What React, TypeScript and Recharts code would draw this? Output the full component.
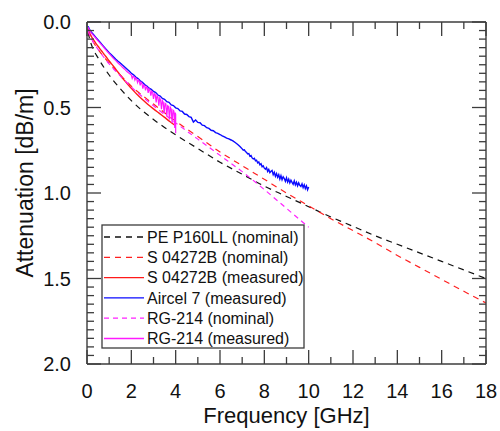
import React from "react";
import { Line, LineChart, XAxis, YAxis } from "recharts";

const FONT = "'Liberation Sans', Arial, Helvetica, sans-serif";
const FRAME = "#3c3c3c";

// frequency [GHz], attenuation [dB/m]
const pe160Nominal: [number, number][] = [
  [0.05, 0.06], [0.1, 0.09], [0.25, 0.15], [0.5, 0.21], [1, 0.31], [1.5, 0.39], [2, 0.46],
  [3, 0.57], [4, 0.66], [5, 0.74], [6, 0.82], [7, 0.89], [8, 0.96], [9, 1.02], [10, 1.08],
  [11, 1.14], [12, 1.195], [13, 1.25], [14, 1.3], [15, 1.35], [16, 1.4], [17, 1.45], [18, 1.5],
];

const s04272Nominal: [number, number][] = [
  [0.05, 0.05], [0.1, 0.07], [0.25, 0.11], [0.5, 0.16], [1, 0.24], [1.5, 0.31], [2, 0.375],
  [3, 0.48], [4, 0.58], [5, 0.67], [6, 0.76], [7, 0.84], [8, 0.92], [9, 1.0], [10, 1.075],
  [11, 1.15], [12, 1.22], [13, 1.29], [14, 1.365], [15, 1.435], [16, 1.505], [17, 1.575], [18, 1.643],
];

const s04272Measured: [number, number][] = [
  [0.05, 0.04], [0.1, 0.06], [0.2, 0.085], [0.3, 0.105], [0.4, 0.125], [0.5, 0.142], [0.6, 0.16],
  [0.7, 0.176], [0.8, 0.194], [0.9, 0.21], [1.0, 0.228], [1.2, 0.26], [1.4, 0.294], [1.6, 0.328],
  [1.8, 0.358], [2.0, 0.388], [2.25, 0.422], [2.5, 0.453], [2.75, 0.482], [3.0, 0.508],
  [3.25, 0.533], [3.5, 0.558], [3.75, 0.583], [4.0, 0.607],
];

const aircel7Measured: [number, number][] = [
  [0.05, 0.025], [0.1, 0.04], [0.2, 0.06], [0.3, 0.075], [0.4, 0.09], [0.5, 0.105], [0.6, 0.12],
  [0.7, 0.135], [0.8, 0.15], [0.9, 0.165], [1.0, 0.18], [1.1, 0.192], [1.2, 0.205], [1.3, 0.218],
  [1.4, 0.23], [1.5, 0.24], [1.6, 0.252], [1.7, 0.263], [1.8, 0.275], [1.9, 0.287], [2.0, 0.3],
  [2.1, 0.309], [2.2, 0.322], [2.3, 0.331], [2.4, 0.344], [2.5, 0.353], [2.6, 0.366], [2.7, 0.374],
  [2.8, 0.387], [2.9, 0.394], [3.0, 0.406], [3.1, 0.413], [3.2, 0.427], [3.3, 0.433], [3.4, 0.447],
  [3.5, 0.452], [3.6, 0.466], [3.7, 0.47], [3.8, 0.485], [3.9, 0.489], [4.0, 0.502], [4.1, 0.506],
  [4.2, 0.52], [4.3, 0.523], [4.4, 0.538], [4.5, 0.541], [4.6, 0.553], [4.7, 0.558], [4.8, 0.585],
  [4.9, 0.573], [5.0, 0.587], [5.1, 0.589], [5.2, 0.603], [5.3, 0.606], [5.4, 0.618], [5.5, 0.622],
  [5.6, 0.633], [5.7, 0.636], [5.8, 0.647], [5.9, 0.651], [6.0, 0.658], [6.1, 0.666], [6.2, 0.672],
  [6.3, 0.679], [6.4, 0.684], [6.5, 0.69], [6.6, 0.697], [6.7, 0.706], [6.8, 0.716], [6.9, 0.728],
  [7.0, 0.742], [7.05, 0.75], [7.1, 0.748], [7.15, 0.758], [7.2, 0.763], [7.25, 0.771], [7.3, 0.769],
  [7.35, 0.785], [7.4, 0.781], [7.45, 0.795], [7.5, 0.801], [7.55, 0.797], [7.6, 0.812], [7.65, 0.808],
  [7.7, 0.824], [7.75, 0.818], [7.8, 0.835], [7.85, 0.829], [7.9, 0.847], [7.95, 0.841], [8.0, 0.855],
  [8.05, 0.861], [8.1, 0.852], [8.15, 0.874], [8.2, 0.862], [8.25, 0.881], [8.3, 0.873], [8.35, 0.868],
  [8.4, 0.893], [8.45, 0.879], [8.5, 0.902], [8.55, 0.886], [8.6, 0.908], [8.65, 0.893], [8.7, 0.918],
  [8.75, 0.899], [8.8, 0.922], [8.85, 0.905], [8.9, 0.915], [8.95, 0.932], [9.0, 0.911], [9.05, 0.936],
  [9.1, 0.919], [9.15, 0.941], [9.2, 0.925], [9.25, 0.938], [9.3, 0.949], [9.35, 0.929], [9.4, 0.952],
  [9.45, 0.937], [9.5, 0.958], [9.55, 0.941], [9.6, 0.955], [9.65, 0.962], [9.7, 0.946], [9.75, 0.968],
  [9.8, 0.952], [9.85, 0.974], [9.9, 0.958], [9.95, 0.981], [10.0, 0.965],
];

const rg214Nominal: [number, number][] = [
  [0.05, 0.05], [0.1, 0.07], [0.25, 0.11], [0.5, 0.16], [1, 0.245], [1.5, 0.315], [2, 0.38],
  [3, 0.49], [4, 0.59], [5, 0.685], [6, 0.78], [7, 0.875], [8, 0.98], [9, 1.09], [10, 1.2],
];

const rg214Measured: [number, number][] = [
  [0.05, 0.03], [0.1, 0.045], [0.2, 0.065], [0.3, 0.08], [0.4, 0.095], [0.5, 0.11], [0.6, 0.125],
  [0.7, 0.14], [0.8, 0.155], [0.9, 0.17], [1.0, 0.185], [1.1, 0.2], [1.2, 0.214], [1.3, 0.226],
  [1.4, 0.24], [1.5, 0.251], [1.6, 0.265], [1.7, 0.276], [1.8, 0.29], [1.9, 0.3], [2.0, 0.31],
  [2.04, 0.33], [2.08, 0.318], [2.12, 0.32], [2.16, 0.34], [2.2, 0.327], [2.24, 0.333],
  [2.28, 0.355], [2.32, 0.34], [2.36, 0.347], [2.4, 0.37], [2.44, 0.352], [2.48, 0.36],
  [2.52, 0.39], [2.56, 0.368], [2.6, 0.372], [2.64, 0.4], [2.68, 0.378], [2.72, 0.385],
  [2.76, 0.415], [2.8, 0.39], [2.84, 0.4], [2.88, 0.43], [2.92, 0.405], [2.96, 0.41],
  [3.0, 0.45], [3.04, 0.42], [3.08, 0.425], [3.12, 0.47], [3.16, 0.43], [3.2, 0.44],
  [3.24, 0.49], [3.28, 0.445], [3.32, 0.455], [3.36, 0.51], [3.4, 0.46], [3.44, 0.47],
  [3.48, 0.535], [3.52, 0.475], [3.56, 0.48], [3.6, 0.55], [3.64, 0.49], [3.68, 0.495],
  [3.72, 0.57], [3.76, 0.5], [3.8, 0.51], [3.84, 0.59], [3.88, 0.515], [3.92, 0.52],
  [3.96, 0.62], [3.98, 0.53], [4.0, 0.54], [4.0, 0.65],
];

const xTicks = [0, 1, 2, 3, 4, 5, 6, 7, 8, 9, 10, 11, 12, 13, 14, 15, 16, 17, 18];
const yTicks = [
  0, 0.05, 0.1, 0.15, 0.2, 0.25, 0.3, 0.35, 0.4, 0.45, 0.5, 0.55, 0.6, 0.65, 0.7, 0.75, 0.8,
  0.85, 0.9, 0.95, 1, 1.05, 1.1, 1.15, 1.2, 1.25, 1.3, 1.35, 1.4, 1.45, 1.5, 1.55, 1.6, 1.65,
  1.7, 1.75, 1.8, 1.85, 1.9, 1.95, 2,
];
const yTickLabels = ["0.0", "0.5", "1.0", "1.5", "2.0"];

interface Series {
  name: string;
  points: [number, number][];
  color: string;
  dash?: string;
  width: number;
  smooth: boolean;
}

const series: Series[] = [
  { name: "PE P160LL (nominal)", points: pe160Nominal, color: "#111111", dash: "6 5", width: 1.2, smooth: true },
  { name: "S 04272B (nominal)", points: s04272Nominal, color: "#ff2020", dash: "6 5", width: 1.2, smooth: true },
  { name: "S 04272B (measured)", points: s04272Measured, color: "#ff1a1a", width: 1.4, smooth: true },
  { name: "Aircel 7 (measured)", points: aircel7Measured, color: "#0a0aff", width: 1.4, smooth: false },
  { name: "RG-214 (nominal)", points: rg214Nominal, color: "#ff22ff", dash: "5 4", width: 1.2, smooth: true },
  { name: "RG-214 (measured)", points: rg214Measured, color: "#ff1aff", width: 1.2, smooth: false },
];

const isMajorY = (v: number) => Math.abs(v * 2 - Math.round(v * 2)) < 1e-6;

function BottomTick(props: any) {
  const { x, y, payload } = props;
  const v = payload.value as number;
  const major = v % 2 === 0;
  return (
    <g>
      <line x1={x} x2={x} y1={y} y2={y - (major ? 14 : 7)} stroke={FRAME} strokeWidth={1.3} />
      {major && (
        <text x={x} y={y + 34} textAnchor="middle" fontSize={20} fontFamily={FONT} fill="#111">
          {v}
        </text>
      )}
    </g>
  );
}

function TopTick(props: any) {
  const { x, y, payload } = props;
  const major = (payload.value as number) % 2 === 0;
  return <line x1={x} x2={x} y1={y} y2={y + (major ? 14 : 7)} stroke={FRAME} strokeWidth={1.3} />;
}

function LeftTick(props: any) {
  const { x, y, payload } = props;
  const v = payload.value as number;
  const major = isMajorY(v);
  return (
    <g>
      <line x1={x} x2={x + (major ? 14 : 7)} y1={y} y2={y} stroke={FRAME} strokeWidth={1.3} />
      {major && (
        <text x={x - 16} y={y} dy="0.36em" textAnchor="end" fontSize={20} fontFamily={FONT} fill="#111">
          {yTickLabels[Math.round(v * 2)]}
        </text>
      )}
    </g>
  );
}

function RightTick(props: any) {
  const { x, y, payload } = props;
  const major = isMajorY(payload.value as number);
  return <line x1={x} x2={x - (major ? 14 : 7)} y1={y} y2={y} stroke={FRAME} strokeWidth={1.3} />;
}

function LegendBox() {
  const left = 102;
  const top = 225;
  return (
    <g>
      <rect x={left} y={top} width={202} height={123} fill="#fff" stroke={FRAME} strokeWidth={1.3} />
      {series.map((s, i) => {
        const cy = top + 12 + i * 20.3;
        return (
          <g key={s.name}>
            <line x1={104} x2={144} y1={cy} y2={cy} stroke={s.color} strokeWidth={1.3} strokeDasharray={s.dash} />
            <text x={147} y={cy} dy="0.36em" fontSize={16} fontFamily={FONT} fill="#111">
              {s.name}
            </text>
          </g>
        );
      })}
    </g>
  );
}

const axisLine = { stroke: FRAME, strokeWidth: 1.4 };

export default function App() {
  return (
    <div style={{ position: "absolute", left: 0, top: 0, width: 500, height: 431, background: "#fff" }}>
      <LineChart width={500} height={431} margin={{ top: 21, right: 13, bottom: 66, left: 86 }}>
        <XAxis
          xAxisId="b"
          dataKey="f"
          type="number"
          domain={[0, 18]}
          allowDataOverflow
          ticks={xTicks}
          interval={0}
          height={1}
          tickSize={0}
          tickMargin={0}
          tickLine={false}
          axisLine={axisLine}
          tick={BottomTick}
        />
        <XAxis
          xAxisId="t"
          orientation="top"
          dataKey="f"
          type="number"
          domain={[0, 18]}
          allowDataOverflow
          ticks={xTicks}
          interval={0}
          height={1}
          tickSize={0}
          tickMargin={0}
          tickLine={false}
          axisLine={axisLine}
          tick={TopTick}
        />
        <YAxis
          yAxisId="l"
          type="number"
          domain={[0, 2]}
          reversed
          allowDataOverflow
          ticks={yTicks}
          interval={0}
          width={1}
          tickSize={0}
          tickMargin={0}
          tickLine={false}
          axisLine={axisLine}
          tick={LeftTick}
        />
        <YAxis
          yAxisId="r"
          orientation="right"
          type="number"
          domain={[0, 2]}
          reversed
          allowDataOverflow
          ticks={yTicks}
          interval={0}
          width={1}
          tickSize={0}
          tickMargin={0}
          tickLine={false}
          axisLine={axisLine}
          tick={RightTick}
        />
        {series.map((s) => (
          <Line
            key={s.name}
            xAxisId="b"
            yAxisId="l"
            data={s.points.map(([f, a]) => ({ f, a }))}
            dataKey="a"
            type={s.smooth ? "monotone" : "linear"}
            stroke={s.color}
            strokeWidth={s.width}
            strokeDasharray={s.dash}
            dot={false}
            activeDot={false}
            isAnimationActive={false}
          />
        ))}
      </LineChart>
      <svg
        width={500}
        height={431}
        style={{ position: "absolute", left: 0, top: 0, pointerEvents: "none" }}
      >
        <LegendBox />
        <text x={286.5} y={423} textAnchor="middle" fontSize={22} fontFamily={FONT} fill="#111">
          Frequency [GHz]
        </text>
        <text
          x={33}
          y={183}
          textAnchor="middle"
          fontSize={23}
          fontFamily={FONT}
          fill="#111"
          transform="rotate(-90, 33, 183)"
        >
          Attenuation [dB/m]
        </text>
      </svg>
    </div>
  );
}
